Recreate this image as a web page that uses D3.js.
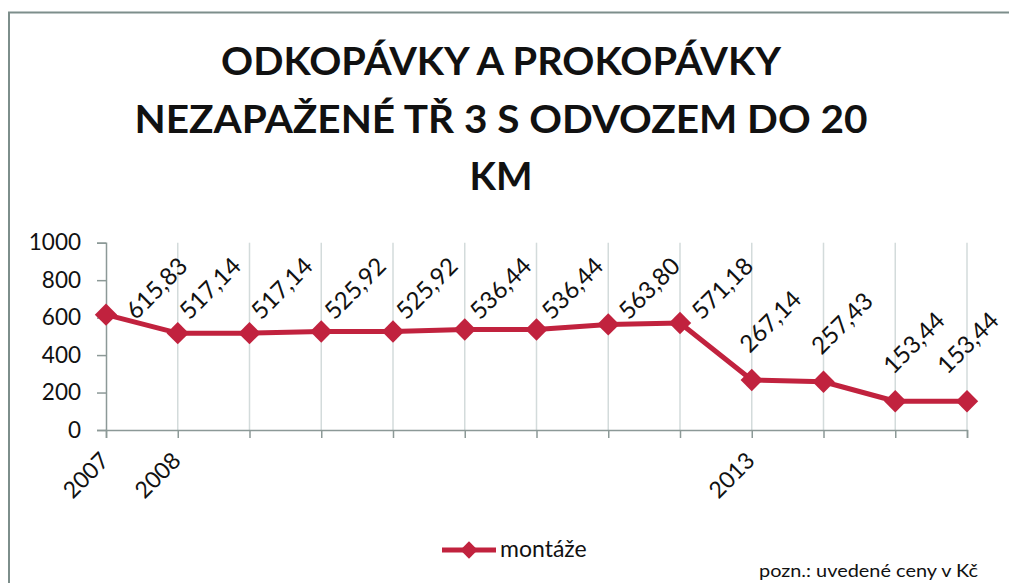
<!DOCTYPE html>
<html>
<head>
<meta charset="utf-8">
<script src="https://cdn.jsdelivr.net/npm/d3@7"></script>
<style>
  html, body { margin: 0; padding: 0; background: #fff; }
  svg { display: block; }
  text { font-family: Lato, "Open Sans", sans-serif; fill: #111; }
</style>
</head>
<body>
<svg id="chart" width="1009" height="583"></svg>
<script>
// ---- data ----
const titleLines = ["ODKOPÁVKY A PROKOPÁVKY", "NEZAPAŽENÉ TŘ 3 S ODVOZEM DO 20", "KM"];
const categories = ["2007", "2008", "", "", "", "", "", "", "", "2013", "", "", ""];
const values = [615.83, 517.14, 517.14, 525.92, 525.92, 536.44, 536.44, 563.80, 571.18, 267.14, 257.43, 153.44, 153.44];
const yTicks = [0, 200, 400, 600, 800, 1000];
const seriesName = "montáže";
const note = "pozn.: uvedené ceny v Kč";

// ---- layout ----
const W = 1009, H = 583;
const plot = { left: 106, right: 967, top: 242.7, bottom: 430 };
const red = "#C1223E";
const axisColor = "#8c9997";
const gridColor = "#d3dbdb";
const labOff = { dx: -2, dy: -26 };

const svg = d3.select("#chart");

// chart border
svg.append("rect")
  .attr("x", 9).attr("y", 12.5)
  .attr("width", W + 20).attr("height", H + 20)
  .attr("fill", "none").attr("stroke", "#7d8e8b").attr("stroke-width", 2);

// title
const titleWidths = [560, 733, 63];
const titleBase = [75, 133, 190];
svg.append("g").selectAll("text").data(titleLines).join("text")
  .attr("x", 501)
  .attr("y", (d, i) => titleBase[i])
  .attr("text-anchor", "middle")
  .attr("font-size", 39)
  .attr("font-weight", 700)
  .attr("textLength", (d, i) => titleWidths[i])
  .attr("lengthAdjust", "spacingAndGlyphs")
  .text(d => d);

// scales
const x = d3.scalePoint().domain(d3.range(categories.length)).range([plot.left, plot.right]);
const y = d3.scaleLinear().domain([0, 1000]).range([plot.bottom, plot.top]);

// vertical gridlines
svg.append("g").selectAll("line").data(d3.range(categories.length).slice(1)).join("line")
  .attr("x1", d => x(d)).attr("x2", d => x(d))
  .attr("y1", plot.top).attr("y2", plot.bottom)
  .attr("stroke", gridColor).attr("stroke-width", 1.5);

// y axis
const yAxis = svg.append("g")
  .attr("transform", `translate(${plot.left},0)`)
  .call(d3.axisLeft(y).tickValues(yTicks).tickSize(9).tickPadding(16).tickFormat(d3.format("d")));
yAxis.select(".domain").attr("stroke", axisColor).attr("stroke-width", 1.5);
yAxis.selectAll(".tick line").attr("stroke", axisColor).attr("stroke-width", 1.5);
yAxis.selectAll(".tick text")
  .attr("font-size", 22.5).attr("fill", "#111")
  .style("font-family", "Lato, sans-serif");

// x axis
const xAxis = svg.append("g")
  .attr("transform", `translate(0,${plot.bottom})`)
  .call(d3.axisBottom(x).tickSizeOuter(0).tickSize(8).tickFormat(i => categories[i]));
xAxis.select(".domain").attr("stroke", axisColor).attr("stroke-width", 1.5);
xAxis.selectAll(".tick line").attr("stroke", axisColor).attr("stroke-width", 1.5);
xAxis.selectAll(".tick text")
  .attr("font-size", 23).attr("fill", "#111")
  .style("font-family", "Lato, sans-serif")
  .attr("text-anchor", "end")
  .attr("x", 0).attr("y", 0).attr("dy", 0)
  .attr("transform", "translate(4,32) rotate(-45)");

// line
const lineGen = d3.line().x((d, i) => x(i)).y(d => y(d));
svg.append("path").datum(values)
  .attr("d", lineGen)
  .attr("fill", "none").attr("stroke", red).attr("stroke-width", 5)
  .attr("stroke-linejoin", "round");

// markers
const diamond = d3.symbol().type(d3.symbolSquare).size(250);
svg.append("g").selectAll("path").data(values).join("path")
  .attr("d", diamond)
  .attr("transform", (d, i) => `translate(${x(i)},${y(d)}) rotate(45)`)
  .attr("fill", red);

// data labels
const loc = d3.formatLocale({ decimal: ",", thousands: " ", grouping: [3], currency: ["", " Kč"] });
const fmt = loc.format(".2f");
const labels = svg.append("g").selectAll("text").data(values).join("text")
  .attr("font-size", 24)
  .attr("text-anchor", "start")
  .attr("transform", (d, i) => `translate(${x(i) + labOff.dx},${y(d) + labOff.dy}) rotate(-45)`)
  .text(d => fmt(d));

// keep labels inside the chart: shift down-right if too high, left if past right edge
labels.each(function (d, i) {
  const b = this.getBoundingClientRect();
  let dx = 0, dy = 0;
  const minTop = plot.top + 8;
  if (b.top < minTop) { const s = minTop - b.top; dx += s; dy += s; }
  const maxRight = W - 5;
  if (b.right + dx > maxRight) { dx -= (b.right + dx - maxRight); }
  if (dx || dy) {
    d3.select(this).attr("transform", `translate(${x(i) + labOff.dx + dx},${y(d) + labOff.dy + dy}) rotate(-45)`);
  }
});

// legend
const lg = svg.append("g");
lg.append("line").attr("x1", 442).attr("x2", 496).attr("y1", 550).attr("y2", 550)
  .attr("stroke", red).attr("stroke-width", 5);
lg.append("path").attr("d", d3.symbol().type(d3.symbolSquare).size(150))
  .attr("transform", "translate(469,550) rotate(45)").attr("fill", red);
lg.append("text").attr("x", 500).attr("y", 557).attr("font-size", 23).text(seriesName);

// note
svg.append("text").attr("x", 759).attr("y", 577).attr("font-size", 18)
  .attr("textLength", 219).attr("lengthAdjust", "spacingAndGlyphs").text(note);
</script>
</body>
</html>
